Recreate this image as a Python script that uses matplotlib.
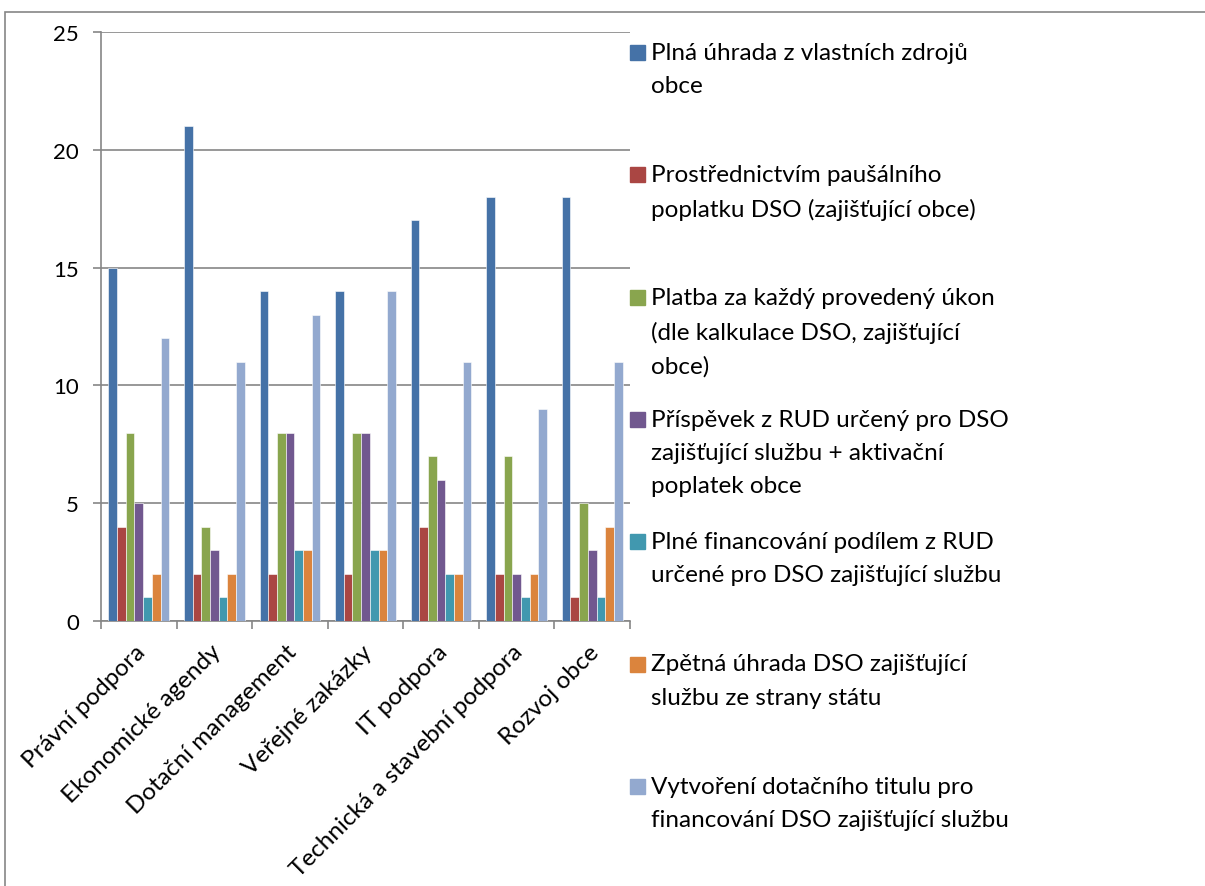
import numpy as np
import matplotlib
matplotlib.use("Agg")
import matplotlib.pyplot as plt
import matplotlib.transforms as mtransforms
from matplotlib.patches import Rectangle

plt.rcParams['font.family'] = ['Lato', 'DejaVu Sans']

categories = ["Právní podpora", "Ekonomické agendy", "Dotační management",
              "Veřejné zakázky", "IT podpora", "Technická a stavební podpora",
              "Rozvoj obce"]

series_names = [
    "Plná úhrada z vlastních zdrojů\nobce",
    "Prostřednictvím paušálního\npoplatku DSO (zajišťující obce)",
    "Platba za každý provedený úkon\n(dle kalkulace DSO, zajišťující\nobce)",
    "Příspěvek z RUD určený pro DSO\nzajišťující službu + aktivační\npoplatek obce",
    "Plné financování podílem z RUD\nurčené pro DSO zajišťující službu",
    "Zpětná úhrada DSO zajišťující\nslužbu ze strany státu",
    "Vytvoření dotačního titulu pro\nfinancování DSO zajišťující službu",
]

plna_uhrada = [15, 21, 14, 14, 17, 18, 18]
pausalni_poplatek = [4, 2, 2, 2, 4, 2, 1]
platba_za_ukon = [8, 4, 8, 8, 7, 7, 5]
prispevek_rud = [5, 3, 8, 8, 6, 2, 3]
plne_financovani_rud = [1, 1, 3, 3, 2, 1, 1]
zpetna_uhrada = [2, 2, 3, 3, 2, 2, 4]
dotacni_titul = [12, 11, 13, 14, 11, 9, 11]

series_values = [plna_uhrada, pausalni_poplatek, platba_za_ukon, prispevek_rud,
                 plne_financovani_rud, zpetna_uhrada, dotacni_titul]

colors = ["#4572A7", "#AA4643", "#89A54E", "#71588F", "#4198AF", "#DB843D", "#93A9CF"]

W, H = 1205, 887
fig = plt.figure(figsize=(W / 100, H / 100), dpi=100)
ax = fig.add_axes([101 / W, 1 - 622 / H, (630 - 101) / W, (622 - 33) / H])

grid_col = "#868686"
x = np.arange(len(categories))
n = len(series_values)
bar_w = 0.115
for i, (vals, col) in enumerate(zip(series_values, colors)):
    offs = (i - (n - 1) / 2) * bar_w
    ax.bar(x + offs, vals, width=bar_w, color=col, edgecolor="white",
           linewidth=0.4, zorder=3)

ax.set_xlim(-0.5, len(categories) - 0.5)
ax.set_ylim(0, 25)
ax.set_yticks(range(0, 26, 5))
ax.yaxis.grid(True, color=grid_col, linewidth=1.2, zorder=0)
ax.set_axisbelow(True)

for s in ["top", "right"]:
    ax.spines[s].set_visible(False)
for s in ["left", "bottom"]:
    ax.spines[s].set_color(grid_col)
    ax.spines[s].set_linewidth(1.2)

ax.tick_params(axis="y", length=6, width=1.2, color=grid_col, labelsize=16, pad=10)
ax.set_xticks(x)
ax.set_xticklabels(categories, rotation=45, ha="right", va="center",
                   rotation_mode="anchor", fontsize=17.5)
ax.tick_params(axis="x", which="major", length=0, pad=19.5)
shift = mtransforms.ScaledTranslation(3 / 100, 0, fig.dpi_scale_trans)
for lbl in ax.get_xticklabels():
    lbl.set_transform(lbl.get_transform() + shift)
ax.set_xticks(np.arange(-0.5, len(categories)), minor=True)
ax.tick_params(axis="x", which="minor", length=6, width=1.2, color=grid_col)

# legend, Excel style: one entry every ~122 px
for i, (name, col) in enumerate(zip(series_names, colors)):
    yc = 53 + 122.3 * i
    fig.patches.append(Rectangle((630 / W, 1 - (yc + 8) / H), 15 / W, 15 / H,
                                 transform=fig.transFigure, color=col))
    fig.text(651 / W, 1 - (yc - 10) / H, name, ha="left", va="top",
             fontsize=17.5, linespacing=1.72)

# outer chart border
fig.patches.append(Rectangle((5 / W, -0.1), 1.2, 1.1 - 12.5 / H,
                             transform=fig.transFigure, fill=False,
                             edgecolor=grid_col, linewidth=1.2))

fig.savefig("out.png", dpi=100)
